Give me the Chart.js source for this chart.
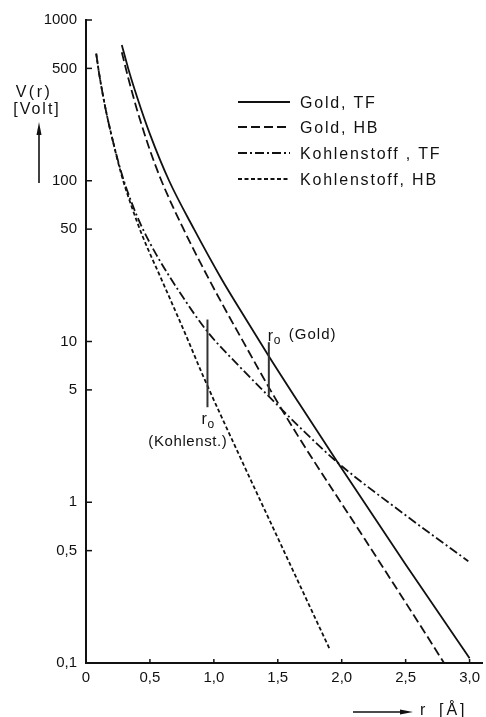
<!DOCTYPE html>
<html><head><meta charset="utf-8">
<script src="https://cdn.jsdelivr.net/npm/chart.js@4.4.0/dist/chart.umd.min.js"></script>
<style>html,body{margin:0;padding:0;background:#fff}</style>
</head><body>
<canvas id="c" width="486" height="717"></canvas>
<script>
// ---- data ----
const seriesNames = ["Gold, TF", "Gold, HB", "Kohlenstoff , TF", "Kohlenstoff, HB"];

const goldTF_r = [0.28, 0.33, 0.4, 0.5, 0.65, 0.845, 1.06, 1.25, 1.43, 1.66, 1.97, 2.5, 2.9, 3.0];
const goldTF_V = [700, 500, 331, 195, 100, 50, 24.5, 13.8, 8.1, 4.2, 1.76, 0.41, 0.14, 0.107];

const goldHB_r = [0.28, 0.33, 0.4, 0.5, 0.59, 0.75, 0.98, 1.235, 1.47, 1.66, 2.18, 2.67, 2.8];
const goldHB_V = [630, 437, 275, 155, 100, 52.5, 22.9, 9.8, 4.57, 2.57, 0.59, 0.146, 0.1];

const kohleTF_r = [0.08, 0.1, 0.15, 0.2, 0.28, 0.36, 0.44, 0.55, 0.73, 0.95, 1.2, 1.41, 1.66, 1.97, 2.5, 2.99];
const kohleTF_V = [617, 479, 288, 191, 110, 72, 51, 34.7, 20.4, 11.5, 7.0, 4.73, 2.99, 1.76, 0.83, 0.43];

const kohleHB_r = [0.08, 0.1, 0.15, 0.2, 0.28, 0.36, 0.44, 0.6, 0.78, 0.92, 1.2, 1.5, 1.66, 1.91];
const kohleHB_V = [617, 479, 288, 191, 107, 68, 45.7, 23.4, 11, 6.0, 1.95, 0.6, 0.32, 0.12];

const xTickValues = [0, 0.5, 1, 1.5, 2, 2.5, 3];
const xTickLabels = ["0", "0,5", "1,0", "1,5", "2,0", "2,5", "3,0"];
const yTickValues = [0.1, 0.5, 1, 5, 10, 50, 100, 500, 1000];
const yTickLabels = ["0,1", "0,5", "1", "5", "10", "50", "100", "500", "1000"];

// r0 markers
const markerNames = ["(Gold)", "(Kohlenst.)"];
const markerR = [1.43, 0.95];
const markerVLow = [4.6, 3.9];
const markerVHigh = [9.9, 13.7];

// ---- chart ----
const INK = '#111';
const FONT = "'Liberation Sans', Arial, sans-serif";
const pts = (rs, vs) => rs.map((r, i) => ({x: r, y: vs[i]}));
const dashes = [[], [9, 4], [9, 3, 2, 3], [4, 2.5]];
const series = [[goldTF_r, goldTF_V], [goldHB_r, goldHB_V], [kohleTF_r, kohleTF_V], [kohleHB_r, kohleHB_V]];

const datasets = series.map((s, i) => ({
  label: seriesNames[i],
  data: pts(s[0], s[1]),
  borderColor: INK,
  borderWidth: 1.8,
  borderDash: dashes[i],
  pointRadius: 0,
  fill: false,
  cubicInterpolationMode: 'monotone'
}));

function fillText(ctx, txt, x, y, size, align, spacing) {
  ctx.font = size + "px " + FONT;
  ctx.textAlign = align || 'left';
  ctx.letterSpacing = (spacing || 0) + 'px';
  ctx.fillText(txt, x, y);
  ctx.letterSpacing = '0px';
}
function seg(ctx, x1, y1, x2, y2) { ctx.beginPath(); ctx.moveTo(x1, y1); ctx.lineTo(x2, y2); ctx.stroke(); }

const decor = {
  id: 'decor',
  afterDraw(chart) {
    const {ctx, chartArea: a, scales: {x, y}} = chart;
    ctx.save();
    ctx.strokeStyle = INK; ctx.fillStyle = INK; ctx.lineWidth = 1.5; ctx.textBaseline = 'alphabetic';
    // inward tick marks
    yTickValues.forEach(v => { const py = y.getPixelForValue(v); seg(ctx, a.left, py, a.left + 6, py); });
    xTickValues.forEach(v => { const px = x.getPixelForValue(v); seg(ctx, px, a.bottom, px, a.bottom - 4); });

    // legend
    const rows = [102, 127, 153, 179];
    chart.data.datasets.forEach((ds, i) => {
      ctx.lineWidth = 1.8;
      ctx.setLineDash(ds.borderDash);
      seg(ctx, 238, rows[i], 290, rows[i]);
      ctx.setLineDash([]);
      fillText(ctx, ds.label, 300, rows[i] + 6, 16, 'left', 1.8);
    });

    // r0 markers
    ctx.lineWidth = 2; ctx.strokeStyle = '#333';
    markerR.forEach((r, i) => {
      const px = x.getPixelForValue(r);
      seg(ctx, px, y.getPixelForValue(markerVLow[i]), px, y.getPixelForValue(markerVHigh[i]));
    });
    // Gold label
    let gx = x.getPixelForValue(markerR[0]);
    fillText(ctx, 'r', gx - 1, 341, 16, 'left');
    fillText(ctx, 'o', gx + 5, 344, 12, 'left');
    fillText(ctx, markerNames[0], gx + 20, 339, 15, 'left', 1);
    // Kohlenstoff label
    let kx = x.getPixelForValue(markerR[1]);
    fillText(ctx, 'r', kx - 6, 424, 16, 'left');
    fillText(ctx, 'o', kx, 428, 12, 'left');
    fillText(ctx, markerNames[1], kx + 20, 446, 15, 'right', 0.6);

    // y title
    ctx.fillStyle = INK;
    fillText(ctx, 'V(r)', 34, 97, 16, 'center', 2.5);
    fillText(ctx, '[Volt]', 37, 114, 16, 'center', 2);
    ctx.lineWidth = 1.6; ctx.strokeStyle = INK;
    seg(ctx, 39, 183, 39, 130);
    ctx.beginPath(); ctx.moveTo(39, 122); ctx.lineTo(36.5, 135); ctx.lineTo(41.5, 135); ctx.closePath(); ctx.fill();

    // x title
    seg(ctx, 353, 712, 402, 712);
    ctx.beginPath(); ctx.moveTo(413, 712); ctx.lineTo(400, 709.5); ctx.lineTo(400, 714.5); ctx.closePath(); ctx.fill();
    fillText(ctx, 'r', 420, 715, 16, 'left');
    fillText(ctx, '[Å]', 439, 715, 16, 'left', 3);
    ctx.restore();
  }
};

new Chart(document.getElementById('c'), {
  type: 'line',
  data: {datasets},
  options: {
    responsive: false,
    animation: false,
    devicePixelRatio: 1,
    layout: {padding: {top: 20, right: 0, left: 0, bottom: 0}},
    plugins: {legend: {display: false}, tooltip: {enabled: false}},
    scales: {
      x: {
        type: 'linear', min: 0, max: 3.1,
        afterBuildTicks: s => { s.ticks = xTickValues.map(v => ({value: v})); },
        afterFit: s => { s.height = 54; },
        ticks: {
          autoSkip: false, maxRotation: 0, padding: 6, color: INK,
          font: {family: FONT, size: 15},
          callback: v => { const i = xTickValues.indexOf(v); return i >= 0 ? xTickLabels[i] : ''; }
        },
        grid: {display: false, drawTicks: false},
        border: {display: true, width: 2, color: INK}
      },
      y: {
        type: 'logarithmic', min: 0.1, max: 1000,
        afterBuildTicks: s => { s.ticks = yTickValues.map(v => ({value: v})); },
        afterFit: s => { s.width = 86; },
        ticks: {
          autoSkip: false, padding: 9, color: INK,
          font: {family: FONT, size: 15},
          callback: v => { const i = yTickValues.indexOf(v); return i >= 0 ? yTickLabels[i] : ''; }
        },
        grid: {display: false, drawTicks: false},
        border: {display: true, width: 2, color: INK}
      }
    }
  },
  plugins: [decor]
});
</script>
</body></html>
